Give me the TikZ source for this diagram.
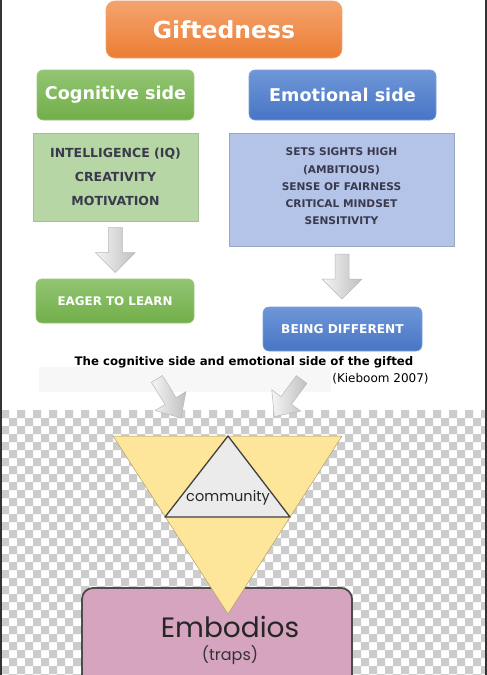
\documentclass[tikz,border=0pt]{standalone}
\usepackage{fontspec}
\setmainfont{DejaVu Sans}
\newfontfamily\qfont{Poppins}
\usetikzlibrary{calc}
\definecolor{orT}{HTML}{F4A46E}
\definecolor{orB}{HTML}{EC7D33}
\definecolor{grT}{HTML}{92C572}
\definecolor{grB}{HTML}{72AE4A}
\definecolor{blT}{HTML}{6F97D8}
\definecolor{blB}{HTML}{4775C5}
\definecolor{grL}{HTML}{B6D7A5}
\definecolor{blL}{HTML}{B3C4E8}
\definecolor{listtxt}{HTML}{3A3A4C}
\definecolor{checkgray}{HTML}{CCCCCC}
\definecolor{triY}{HTML}{FDE59A}
\definecolor{triG}{HTML}{EBEBEB}
\definecolor{pinkbox}{HTML}{D6A4BF}
\definecolor{band}{HTML}{F7F7F7}
\tikzset{
  hdrbox/.style={rounded corners=6pt, text=white, inner sep=0pt,
    font=\bfseries\fontsize{17.6}{20}\selectfont},
  greenhdr/.style={hdrbox, top color=grT, bottom color=grB, draw=grB!70!white, line width=0.6pt},
  bluehdr/.style={hdrbox, top color=blT, bottom color=blB, draw=blB!70!white, line width=0.6pt},
  listbox/.style={inner sep=0pt, line width=0.8pt},
  listtext/.style={text=listtxt, align=center, inner sep=0pt},
  blockarrow/.style={draw=gray!55, line width=0.5pt, left color=gray!8, right color=gray!50},
  pics/barrow/.style={code={
    \path[blockarrow] (-22.5,-7) -- (2.5,-7) -- (2.5,-20) -- (22.5,0) -- (2.5,20) -- (2.5,7) -- (-22.5,7) -- cycle;
  }},
  pics/darrow/.style={code={
    \path[blockarrow] (-23,-6.5) -- (3,-6.5) -- (3,-18) -- (23,0) -- (3,18) -- (3,6.5) -- (-23,6.5) -- cycle;
  }}
}
\begin{document}
\begin{tikzpicture}[x=1pt,y=-1pt]
\useasboundingbox (0,0) rectangle (487,675);
\fill[white] (0,0) rectangle (487,675);
% light band behind caption
\fill[band] (39,367) rectangle (331,392);
% checkerboard
\begin{scope}
\clip (2,410) rectangle (485,675);
\fill[checkgray] \foreach \j [evaluate=\j as \yy using {410+8*\j}, evaluate=\j as \xo using {1+8*mod(\j,2)}] in {0,...,33} {
  \foreach \k in {0,...,30} { (\xo+16*\k,\yy) rectangle ++(8,8) } };
\end{scope}
% frame lines
\fill[black!80] (0,0) rectangle (2,675);
\fill[black!80] (485,0) rectangle (487,675);

% top boxes
\node[rounded corners=9pt, top color=orT, bottom color=orB, draw=orB!70!white, line width=0.6pt,
      minimum width=236, minimum height=57, inner sep=0pt, text=white,
      font=\bfseries\fontsize{23.5}{26}\selectfont] (gift) at (224,29.5) {Giftedness};
\node[greenhdr, minimum width=157, minimum height=50] (cog) at (115.5,95) {Cognitive side};
\node[bluehdr, minimum width=187, minimum height=50] (emo) at (342.5,95) {Emotional side};

% list boxes
\node[listbox, fill=grL, draw=grL!85!black!90, minimum width=165, minimum height=88] (coglist) at (115.5,177) {};
\node[listtext, font=\bfseries\fontsize{12.5}{24}\selectfont] (cogtext) at (coglist.center)
  {INTELLIGENCE (IQ)\\CREATIVITY\\MOTIVATION};
\node[listbox, fill=blL, draw=blL!80!black!90, minimum width=225, minimum height=113] (emolist) at (341.5,189.5) {};
\node[listtext, font=\bfseries\fontsize{10.6}{17.25}\selectfont] (emotext) at (341.5,186.5)
  {SETS SIGHTS HIGH\\(AMBITIOUS)\\SENSE OF FAIRNESS\\CRITICAL MINDSET\\SENSITIVITY};

% result boxes
\node[greenhdr, minimum width=158, minimum height=44, font=\bfseries\fontsize{11.9}{14}\selectfont] (eager) at (115,301) {EAGER TO LEARN};
\node[bluehdr, minimum width=159, minimum height=44, font=\bfseries\fontsize{12.2}{14}\selectfont] (diff) at (342.5,329) {BEING DIFFERENT};

% down arrows
\coordinate (a1) at ($(coglist.south)!0.5!(eager.north)$);
\coordinate (a2) at ($(emolist.south)!0.5!(diff.north)$);
\pic[rotate=-90] at (a1) {barrow};
\pic[rotate=-90] at (a2) {barrow};

% caption
\node[inner sep=0pt, font=\bfseries\fontsize{11.75}{13}\selectfont] (caption) at (244,362)
  {The cognitive side and emotional side of the gifted};
\node[inner sep=0pt, font=\fontsize{12}{14}\selectfont] (cite) at (380.5,379) {(Kieboom 2007)};

% Embodios box
\path[fill=pinkbox, draw=black!70, line width=1.8pt, rounded corners=11pt]
  (82,700) -- (82,588) -- (352,588) -- (352,700);
\node[inner sep=0pt, text=black!85, font=\qfont\fontsize{28}{30}\selectfont] (embodios) at (230,627) {Embodios};
\node[inner sep=0pt, text=black!80, font=\qfont\fontsize{16}{18}\selectfont] (traps) at (230,655) {(traps)};

% triangles
\coordinate (tA) at (113,436);
\coordinate (tB) at (342,436);
\coordinate (tC) at (228,614);
\coordinate (iT) at (228,436);
\coordinate (iL) at (165,517);
\coordinate (iR) at (290,517);
\path[fill=triY, draw=triY!70!black, line width=0.5pt] (tA) -- (tB) -- (tC) -- cycle;
\path[fill=triG, draw=black!75, line width=1.3pt, line join=round] (iT) -- (iR) -- (iL) -- cycle;
\node[inner sep=0pt, text=black!85, font=\qfont\fontsize{14.5}{17}\selectfont] (community) at (228,498) {community};

% diagonal arrows
\coordinate (d1) at (169,398.5);
\coordinate (d2) at (288,398);
\pic[rotate=-58.4] at (d1) {darrow};
\pic[rotate=-126.4] at (d2) {darrow};
\end{tikzpicture}
\end{document}
